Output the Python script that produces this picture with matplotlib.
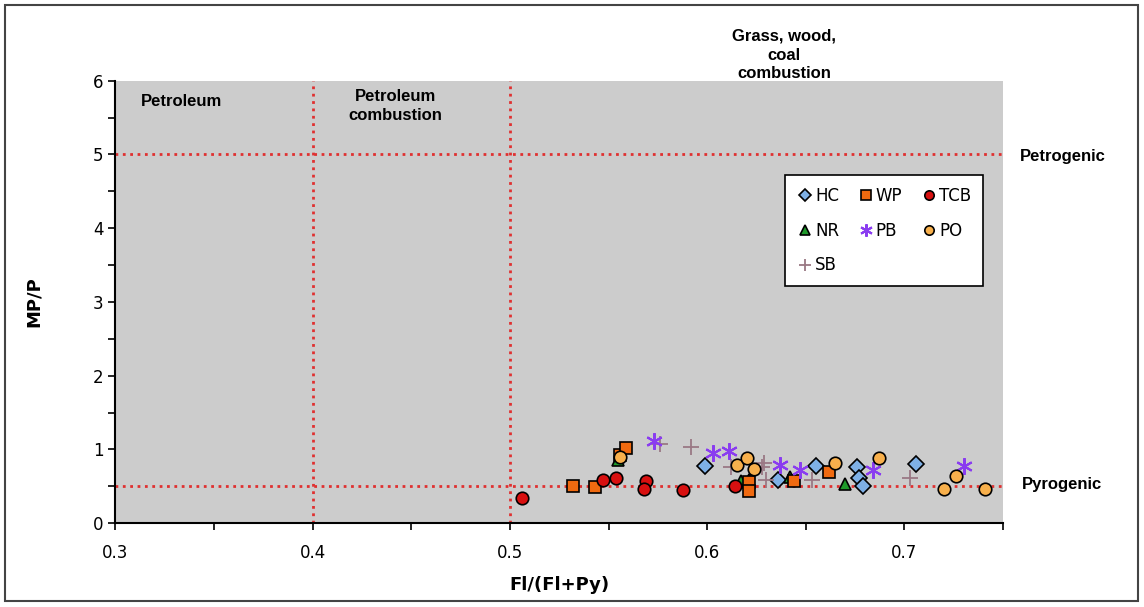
import numpy as np
import matplotlib.pyplot as plt
from matplotlib.patches import Rectangle

# Datos: Fl/(Fl+Py) vs MP/P
hc_x = [0.599, 0.636, 0.655, 0.676, 0.677, 0.679, 0.706]
hc_y = [0.77, 0.59, 0.77, 0.76, 0.62, 0.51, 0.80]

wp_x = [0.532, 0.543, 0.556, 0.559, 0.621, 0.621, 0.644, 0.662]
wp_y = [0.51, 0.49, 0.93, 1.02, 0.56, 0.44, 0.57, 0.70]

tcb_x = [0.506, 0.547, 0.554, 0.569, 0.568, 0.588, 0.614]
tcb_y = [0.34, 0.58, 0.62, 0.57, 0.46, 0.45, 0.51]

nr_x = [0.555, 0.617, 0.621, 0.642, 0.670]
nr_y = [0.86, 0.57, 0.58, 0.63, 0.53]

pb_x = [0.573, 0.603, 0.611, 0.637, 0.647, 0.684, 0.730]
pb_y = [1.11, 0.95, 0.98, 0.79, 0.72, 0.72, 0.77]

po_x = [0.556, 0.615, 0.620, 0.624, 0.665, 0.687, 0.720, 0.726, 0.741]
po_y = [0.90, 0.79, 0.88, 0.73, 0.81, 0.89, 0.46, 0.64, 0.47]

sb_x = [0.576, 0.592, 0.612, 0.629, 0.628, 0.630, 0.653, 0.703]
sb_y = [1.07, 1.04, 0.76, 0.82, 0.76, 0.58, 0.58, 0.62]

fig = plt.figure(figsize=(11.44, 6.07), dpi=100)
ax = fig.add_axes([0.1008, 0.138, 0.7760, 0.729])
ax.set_facecolor('#cccccc')

# Lineas de referencia
lc = '#e03030'
ax.axhline(5, color=lc, ls=':', lw=2)
ax.axhline(0.5, color=lc, ls=':', lw=2)
ax.axvline(0.4, color=lc, ls=':', lw=2)
ax.axvline(0.5, color=lc, ls=':', lw=2)

ms = 9
ax.plot(hc_x, hc_y, 'D', ms=ms - 1, mfc='#7eb0e6', mec='black', mew=1.2, label='HC')
ax.plot(nr_x, nr_y, '^', ms=ms, mfc='#1e9a2a', mec='black', mew=1.2, label='NR')
ax.plot(sb_x, sb_y, '+', ms=ms + 3, color='#9a7884', mew=1.3, label='SB')
ax.plot(wp_x, wp_y, 's', ms=ms, mfc='#f06a10', mec='black', mew=1.2, label='WP')
ax.plot(pb_x, pb_y, linestyle='none', marker=(6, 2, 0), ms=ms + 3, color='#8a3cf0', mew=1.5, label='PB')
ax.plot(tcb_x, tcb_y, 'o', ms=ms, mfc='#d81010', mec='black', mew=1.2, label='TCB')
ax.plot(po_x, po_y, 'o', ms=ms, mfc='#f8b04c', mec='black', mew=1.2, label='PO')

ax.set_xlim(0.3, 0.75)
ax.set_ylim(0, 6)
ax.set_xticks([0.3, 0.4, 0.5, 0.6, 0.7])
ax.set_xticklabels(['0.3', '0.4', '0.5', '0.6', '0.7'])
ax.set_xticks(np.arange(0.35, 0.76, 0.1), minor=True)
ax.set_yticks(range(7))
ax.set_yticks(np.arange(0.5, 6, 1.0), minor=True)
ax.tick_params(axis='both', which='both', direction='out', length=5, width=1.2, labelsize=12, colors='black')
ax.tick_params(axis='x', pad=10)
for s in ['top', 'right']:
    ax.spines[s].set_visible(False)
ax.spines['left'].set_linewidth(1.5)
ax.spines['bottom'].set_linewidth(1.5)

ax.set_xlabel('Fl/(Fl+Py)', fontsize=13, fontweight='bold', labelpad=10)
ax.set_ylabel('MP/P', fontsize=13, fontweight='bold', labelpad=36)

leg = ax.legend(ncol=3, loc='upper left', bbox_to_anchor=(0.745, 0.805), fontsize=12,
                frameon=True, fancybox=False, edgecolor='black', facecolor='white', framealpha=1,
                handletextpad=0.1, columnspacing=1.1, labelspacing=1.0, borderpad=0.7,
                handlelength=1.0, markerscale=0.75)
leg.get_frame().set_linewidth(1.2)

# Textos de zonas
tk = dict(fontsize=12, fontweight='bold', family='Liberation Sans',
          transform=fig.transFigure, ha='center', va='center')
fig.text(182 / 1144, 1 - 102 / 607, 'Petroleum', **tk)
fig.text(395 / 1144, 1 - 106 / 607, 'Petroleum\ncombustion', linespacing=1.3, **tk)
fig.text(784 / 1144, 1 - 55 / 607, 'Grass, wood,\ncoal\ncombustion', linespacing=1.3, **tk)
fig.text(1063 / 1144, 1 - 157 / 607, 'Petrogenic', **tk)
fig.text(1062 / 1144, 1 - 485 / 607, 'Pyrogenic', **tk)

# Marco exterior
fig.patches.append(Rectangle((5 / 1144, 6 / 607), 1133 / 1144, 596 / 607, transform=fig.transFigure,
                             fill=False, edgecolor='#444444', lw=1.5))

fig.savefig('out.png', dpi=100)
